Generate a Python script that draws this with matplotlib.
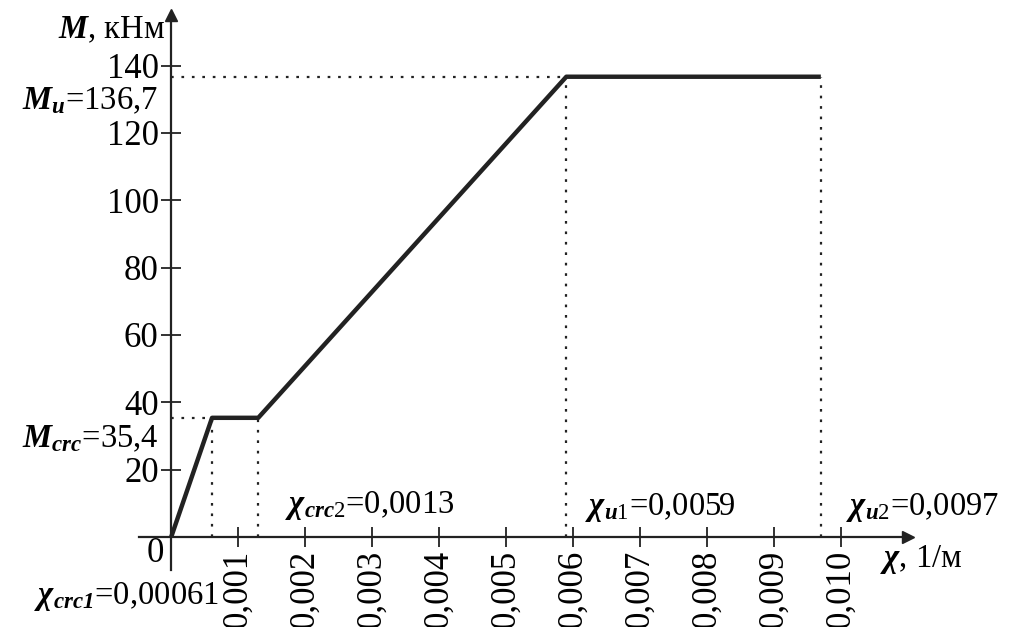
import matplotlib
matplotlib.use('Agg')
import matplotlib.pyplot as plt

plt.rcParams['font.family'] = ['Liberation Serif', 'DejaVu Serif']
plt.rcParams['mathtext.fontset'] = 'custom'
plt.rcParams['mathtext.rm'] = 'Liberation Serif'
plt.rcParams['mathtext.it'] = 'Liberation Serif:italic'
plt.rcParams['mathtext.bf'] = 'Liberation Serif:bold'
plt.rcParams['mathtext.bfit'] = 'Liberation Serif:bold:italic'

# diagram points: curvature (1/m) and moment (kNm)
chi = [0, 0.00061, 0.0013, 0.0059, 0.0097]
moment = [0, 35.4, 35.4, 136.7, 136.7]

y_ticks = [20, 40, 60, 80, 100, 120, 140]
x_ticks = [0.001, 0.002, 0.003, 0.004, 0.005, 0.006, 0.007, 0.008, 0.009, 0.010]
x_tick_labels = ['0,001', '0,002', '0,003', '0,004', '0,005',
                 '0,006', '0,007', '0,008', '0,009', '0,010']

fs = 25   # tick labels
fa = 23.5  # annotations
fig = plt.figure(figsize=(10.09, 6.27), dpi=100)
ax = fig.add_axes([0.1378, 0.0909, 0.762, 0.885])
ax.set_xlim(-0.00048, 0.0110)
ax.set_ylim(-9.8, 155)

for s in ['top', 'right']:
    ax.spines[s].set_visible(False)
for s in ['left', 'bottom']:
    ax.spines[s].set_position(('data', 0))
    ax.spines[s].set_linewidth(1.6)
    ax.spines[s].set_color('#222222')

# arrow heads
ax.plot(1, 0, '>', color='#222222', ms=9, transform=ax.get_yaxis_transform(), clip_on=False)
ax.plot(0, 1, '^', color='#222222', ms=9, transform=ax.get_xaxis_transform(), clip_on=False)

ax.set_yticks(y_ticks)
ax.set_yticklabels([str(v) for v in y_ticks], fontsize=fs)
ax.set_xticks(x_ticks)
ax.set_xticklabels(x_tick_labels, fontsize=fs, rotation=90)
ax.tick_params(axis='both', direction='inout', length=14, width=1.3, color='#222222', pad=2)

# dotted guide lines
dot = dict(color='#222222', lw=1.6, ls=(0, (1.2, 3.5)))
for cx, m in zip(chi[1:], moment[1:]):
    ax.plot([cx, cx], [0, m], **dot)
ax.plot([0, chi[1]], [moment[1], moment[1]], **dot)
ax.plot([0, chi[3]], [moment[3], moment[3]], **dot)

ax.plot(chi, moment, color='#222222', lw=3.2, solid_capstyle='butt', zorder=5)

# labels
ax.text(-0.00024, -4.8, '0', fontsize=fs, ha='center', va='center')
ax.text(-0.00009, 150.7, r'$\mathbfit{M}$, кНм', fontsize=fa, ha='right', va='center', clip_on=False)
ax.text(-0.00019, 129.6, r'$\mathbfit{M}_{\mathbfit{u}}$=136,7', fontsize=fa, ha='right', va='center')
ax.text(-0.00019, 29.2, r'$\mathbfit{M}_{\mathbfit{crc}}$=35,4', fontsize=fa, ha='right', va='center')
ax.text(0.00072, -17.8, r'$\mathbfit{\chi}_{\mathbfit{crc1}}$=0,00061', fontsize=fa,
        ha='right', va='center', clip_on=False)
ax.text(0.0017, 9.5, r'$\mathbfit{\chi}_{\mathbfit{crc}2}$=0,0013', fontsize=fa, ha='left', va='center')
ax.text(0.00618, 8.9, r'$\mathbfit{\chi}_{\mathbfit{u}1}$=0,0059', fontsize=fa, ha='left', va='center')
ax.text(0.01008, 8.9, r'$\mathbfit{\chi}_{\mathbfit{u}2}$=0,0097', fontsize=fa, ha='left', va='center', clip_on=False)
ax.text(0.01058, -6.8, r'$\mathbfit{\chi}$, 1/м', fontsize=fa, ha='left', va='center', clip_on=False)

fig.savefig('out.png', dpi=100)
